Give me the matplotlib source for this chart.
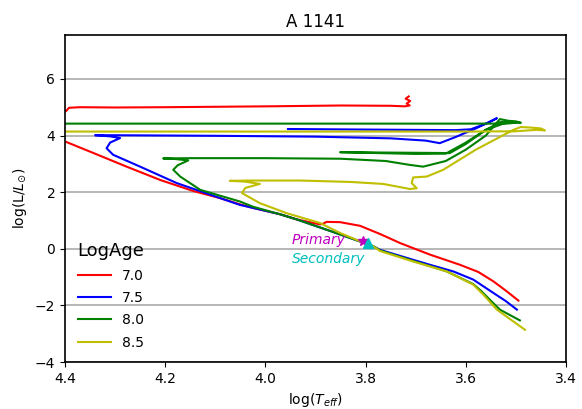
import matplotlib
matplotlib.use("Agg")
import matplotlib.pyplot as plt

# ---- data ----
ages = ["7.0", "7.5", "8.0", "8.5"]
colors = ["r", "b", "g", "y"]

t70 = [3.495, 3.52, 3.545, 3.575, 3.611, 3.671, 3.731, 3.771, 3.811, 3.851, 3.878, 3.884, 3.891,
       3.938, 3.971, 4.024, 4.051, 4.091, 4.144, 4.21, 4.277, 4.343, 4.40, 4.50,
       4.48, 4.398, 4.392, 4.37, 4.3, 4.2, 4.0, 3.85, 3.75, 3.722,
       3.712, 3.718, 3.711, 3.72, 3.714]
l70 = [-1.83, -1.48, -1.15, -0.82, -0.57, -0.21, 0.20, 0.52, 0.81, 0.94, 0.95, 0.89, 0.86,
       1.04, 1.22, 1.44, 1.57, 1.79, 2.04, 2.43, 2.90, 3.38, 3.79, 4.45,
       4.70, 4.86, 4.98, 5.00, 4.99, 5.00, 5.03, 5.06, 5.05, 5.03,
       5.06, 5.13, 5.22, 5.30, 5.38]

t75 = [3.498, 3.52, 3.545, 3.585, 3.625, 3.665, 3.705, 3.771, 3.785, 3.805, 3.871, 3.938, 3.971,
       4.024, 4.051, 4.11, 4.177, 4.25, 4.304, 4.317, 4.31, 4.29, 4.31, 4.34,
       4.30, 4.1, 3.9, 3.75, 3.68, 3.652, 3.62, 3.58, 3.538, 3.555, 3.59,
       3.62, 3.8, 3.955]
l75 = [-2.15, -1.85, -1.56, -1.09, -0.80, -0.60, -0.39, -0.04, 0.09, 0.22, 0.63, 1.04, 1.22,
       1.44, 1.55, 1.91, 2.32, 2.90, 3.32, 3.55, 3.75, 3.91, 3.97, 4.01,
       4.01, 3.99, 3.96, 3.90, 3.82, 3.73, 3.95, 4.25, 4.61, 4.45, 4.22,
       4.19, 4.21, 4.23]

t80 = [3.492, 3.532, 3.552, 3.57, 3.585, 3.638, 3.705, 3.771, 3.785, 3.805, 3.871, 3.938,
       3.971, 4.024, 4.051, 4.13, 4.17, 4.184, 4.175, 4.154, 4.18, 4.204, 4.15,
       4.0, 3.85, 3.76, 3.711, 3.685, 3.64, 3.6, 3.56, 3.532, 3.515, 3.50,
       3.49, 3.52, 3.56, 3.60, 3.632, 3.70, 3.851, 3.70, 3.64, 3.60, 3.56,
       3.53, 3.50, 3.52, 3.6, 4.0, 4.5]
l80 = [-2.53, -2.15, -1.80, -1.48, -1.25, -0.80, -0.43, -0.06, 0.09, 0.22, 0.63, 1.04,
       1.22, 1.48, 1.67, 2.08, 2.55, 2.79, 2.95, 3.12, 3.17, 3.19, 3.20,
       3.20, 3.18, 3.10, 2.96, 2.90, 3.10, 3.50, 4.00, 4.58, 4.52, 4.50,
       4.45, 4.45, 4.20, 3.70, 3.38, 3.39, 3.41, 3.35, 3.36, 3.75, 4.20,
       4.48, 4.45, 4.42, 4.42, 4.42, 4.42]

t85 = [3.482, 3.538, 3.565, 3.585, 3.638, 3.705, 3.771, 3.785, 3.805, 3.85, 3.891,
       3.958, 4.011, 4.047, 4.04, 4.011, 4.04, 4.071, 4.03, 3.931, 3.83, 3.765,
       3.711, 3.698, 3.708, 3.705, 3.678, 3.645, 3.58, 3.505, 3.49, 3.47, 3.45,
       3.442, 3.46, 3.50, 3.6, 4.0, 4.5]
l85 = [-2.86, -2.15, -1.62, -1.27, -0.80, -0.45, -0.08, 0.09, 0.22, 0.55, 0.91,
       1.26, 1.61, 1.97, 2.15, 2.29, 2.37, 2.40, 2.41, 2.41, 2.36, 2.29,
       2.11, 2.14, 2.32, 2.52, 2.55, 2.79, 3.50, 4.20, 4.30, 4.28, 4.25,
       4.18, 4.20, 4.15, 4.14, 4.14, 4.14]

prim_t, prim_l = 3.805, 0.29
sec_t, sec_l = 3.796, 0.22

series_t = [t70, t75, t80, t85]
series_l = [l70, l75, l80, l85]

# ---- figure ----
fig = plt.figure(figsize=(5.82, 4.09), dpi=100)
ax = fig.add_axes([0.1117, 0.1149, 0.8608, 0.7995])

for t, l, c, a in zip(series_t, series_l, colors, ages):
    ax.plot(t, l, color=c, lw=1.5, label=a)

ax.plot(prim_t, prim_l, marker="*", color="m", ms=7, ls="none")
ax.plot(sec_t, sec_l, marker="^", color="c", ms=7, ls="none")
ax.text(3.948, 0.30, "Primary", color="m", style="italic", fontsize=10, va="center", ha="left")
ax.text(3.948, -0.35, "Secondary", color="c", style="italic", fontsize=10, va="center", ha="left")

ax.set_xlim(4.4, 3.4)
ax.set_ylim(-4, 7.55)
ax.set_xticks([4.4, 4.2, 4.0, 3.8, 3.6, 3.4])
ax.set_yticks([-4, -2, 0, 2, 4, 6])
ax.yaxis.grid(True, color="#aaaaaa", lw=1.2)
ax.set_axisbelow(True)
for s in ax.spines.values():
    s.set_linewidth(1.2)

ax.set_title("A 1141", fontsize=12)
ax.set_xlabel(r"log($T_{eff}$)", fontsize=10)
ax.set_ylabel(r"log(L/$L_{\odot}$)", fontsize=10)

leg = ax.legend(loc="lower left", frameon=False, title="LogAge", title_fontsize=13,
                fontsize=10, handlelength=2.4, labelspacing=0.6)
leg._legend_box.align = "left"

fig.savefig("out.png", dpi=100)
